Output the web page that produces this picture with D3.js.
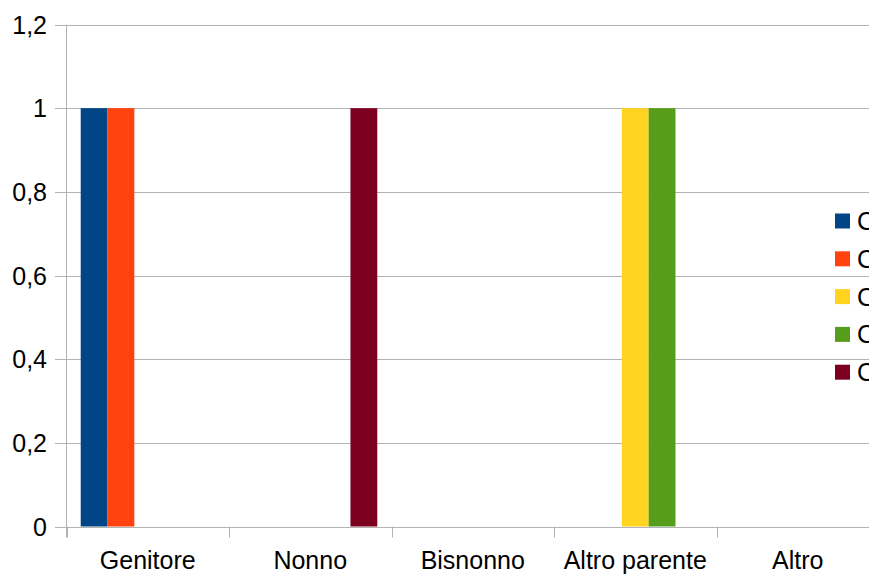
<!DOCTYPE html>
<html><head><meta charset="utf-8">
<script src="https://cdn.jsdelivr.net/npm/d3@7"></script>
<style>html,body{margin:0;padding:0;background:#fff;overflow:hidden}</style>
</head><body>
<svg id="c" width="869" height="575"></svg>
<script>
const categories = ["Genitore", "Nonno", "Bisnonno", "Altro parente", "Altro"];
const seriesNames = ["Colonna B", "Colonna C", "Colonna D", "Colonna E", "Colonna F"];
const seriesColors = ["#004586", "#ff420e", "#ffd320", "#579d1c", "#7e0021"];
const s1 = [1, 0, 0, 0, 0];
const s2 = [1, 0, 0, 0, 0];
const s3 = [0, 0, 0, 1, 0];
const s4 = [0, 0, 0, 1, 0];
const s5 = [0, 1, 0, 0, 0];
const yTicks = [0, 0.2, 0.4, 0.6, 0.8, 1, 1.2];
const tickLabels = ["0", "0,2", "0,4", "0,6", "0,8", "1", "1,2"];

const seriesValues = [s1, s2, s3, s4, s5];
const svg = d3.select("#c");
const font = "'Liberation Sans', Arial, sans-serif";
const grid = "#b3b3b3";

const x = d3.scaleBand().domain(categories).range([66.5, 66.5 + 5 * 162.5]).paddingInner(0).paddingOuter(0);
const x1 = d3.scaleBand().domain(seriesNames).range([0, x.bandwidth()]).paddingOuter(0.53).paddingInner(0);
const y = d3.scaleLinear().domain([0, 1.2]).range([526.5, 24.5]);

// gridlines
svg.append("g").selectAll("line").data(yTicks).join("line")
  .attr("x1", 55).attr("x2", 869)
  .attr("y1", d => Math.round(y(d)) + 0.5).attr("y2", d => Math.round(y(d)) + 0.5)
  .attr("stroke", grid).attr("stroke-width", 1);

// y axis line
svg.append("line").attr("x1", 66.5).attr("x2", 66.5).attr("y1", y(1.2)).attr("y2", 537.5)
  .attr("stroke", grid);

// x ticks
const xt = categories.map(c => x(c)).concat([x.range()[1]]);
svg.append("g").selectAll("line").data(xt).join("line")
  .attr("x1", d => Math.round(d) + 0.5).attr("x2", d => Math.round(d) + 0.5)
  .attr("y1", 526.5).attr("y2", 537.5).attr("stroke", grid);

// y labels
svg.append("g").selectAll("text").data(yTicks).join("text")
  .attr("x", 47).attr("y", d => y(d) + 9)
  .attr("text-anchor", "end").attr("font-family", font).attr("font-size", 25)
  .attr("fill", "#000").text((d, i) => tickLabels[i]);

// x labels
svg.append("g").selectAll("text").data(categories).join("text")
  .attr("x", d => x(d) + x.bandwidth() / 2).attr("y", 569)
  .attr("text-anchor", "middle").attr("font-family", font).attr("font-size", 25)
  .attr("fill", "#000").text(d => d);

// bars
seriesValues.forEach((vals, si) => {
  svg.append("g").selectAll("rect").data(categories.map((c, i) => ({c, v: vals[i]})).filter(d => d.v > 0))
    .join("rect")
    .attr("x", d => x(d.c) + x1(seriesNames[si]))
    .attr("width", x1.bandwidth())
    .attr("y", d => y(d.v))
    .attr("height", d => y(0) - y(d.v))
    .attr("fill", seriesColors[si]);
});

// legend
const lg = svg.append("g");
seriesNames.forEach((n, i) => {
  const cy = 221 + i * 37.8;
  lg.append("rect").attr("x", 835).attr("y", cy - 7.5).attr("width", 15).attr("height", 15).attr("fill", seriesColors[i]);
  lg.append("text").attr("x", 857).attr("y", cy + 9).attr("font-family", font).attr("font-size", 25)
    .attr("fill", "#000").text(n);
});
</script>
</body></html>
